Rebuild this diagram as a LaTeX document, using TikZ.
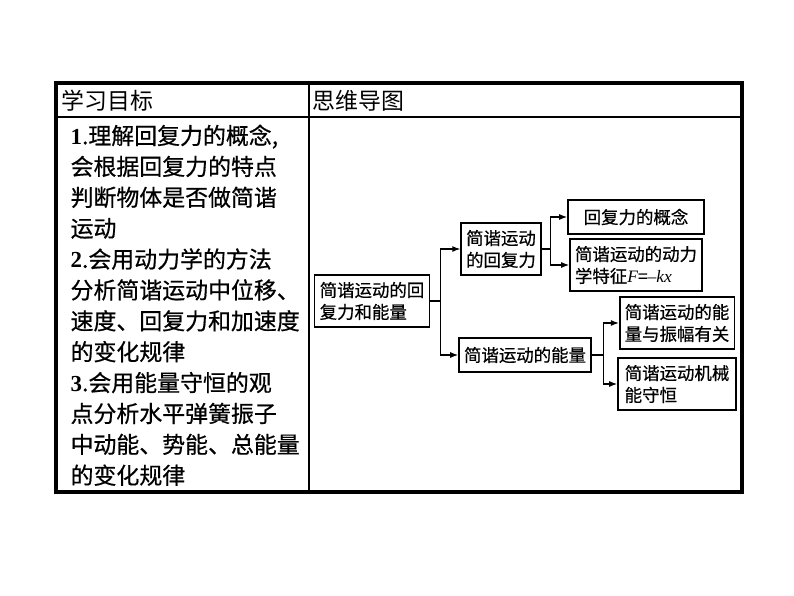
\documentclass[tikz,border=0pt]{standalone}
\usepackage{fontspec}
\setmainfont{Liberation Serif}
\newfontfamily\cjk{Noto Sans CJK SC}
\newfontfamily\cjkbold{Noto Sans CJK SC}[FakeBold=0.6]
\usetikzlibrary{positioning,arrows.meta}

\tikzset{
  mapbox/.style={draw,line width=1.6bp,inner xsep=5bp,inner ysep=7bp,minimum height=34bp,align=left,
    font=\cjkbold\fontsize{17.5}{22}\selectfont},
  cellhead/.style={anchor=west,inner sep=0pt,font=\cjk\fontsize{23}{28}\selectfont},
}

\begin{document}
\begin{tikzpicture}[x=1bp,y=-1bp,>={Latex[length=8bp,width=6bp]},line width=1.2bp]
\useasboundingbox (0,0) rectangle (794,596);
% table
\draw[line width=3.5bp] (56,83) rectangle (742,492);
\draw (56,117) -- (742,117);
\draw (309,83) -- (309,492);
\node[cellhead] (goalhead) at (61,101) {学习目标};
\node[cellhead] (maphead) at (312,101) {思维导图};
\node[anchor=north west,inner sep=0pt,align=left,font=\cjkbold\fontsize{23}{31}\selectfont] (goals) at (70,124)
  {{\normalfont\bfseries 1}.理解回复力的概念,\\会根据回复力的特点\\判断物体是否做简谐\\运动\\
   {\normalfont\bfseries 2}.会用动力学的方法\\分析简谐运动中位移、\\速度、回复力和加速度\\的变化规律\\
   {\normalfont\bfseries 3}.会用能量守恒的观\\点分析水平弹簧振子\\中动能、势能、总能量\\的变化规律};
% mind map
\node[mapbox] (root) at (372,301) {简谐运动的回\\复力和能量};
\node[mapbox] (force) at (501,249) {简谐运动\\的回复力};
\node[mapbox] (energy) at (525,355) {简谐运动的能量};
\node[mapbox,minimum width=136bp] (concept) at (636,217) {回复力的概念};
\node[mapbox] (dyn) at (636,265) {简谐运动的动力\\学特征{\normalfont\itshape F}={\normalfont –\itshape kx}};
\node[mapbox] (amp) at (677,323) {简谐运动的能\\量与振幅有关};
\node[mapbox,minimum width=118bp] (cons) at (677,384) {简谐运动机械\\能守恒};
\draw[->] (root.east) -- ++(10,0) |- (force.west);
\draw[->] (root.east) -- ++(10,0) |- (energy.west);
\draw[->] (force.east) -- ++(9,0) |- (concept.west);
\draw[->] (force.east) -- ++(9,0) |- (dyn.west);
\draw[->] (energy.east) -- ++(12,0) |- (amp.west);
\draw[->] (energy.east) -- ++(12,0) |- (cons.west);
\end{tikzpicture}
\end{document}
